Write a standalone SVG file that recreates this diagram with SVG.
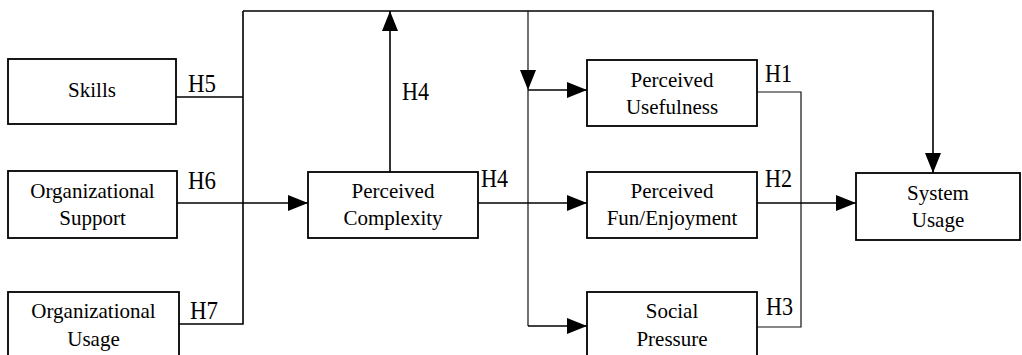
<svg xmlns="http://www.w3.org/2000/svg" width="1022" height="355" viewBox="0 0 1022 355">
<style>
.box{fill:#fff;stroke:#000;stroke-width:1.8}
.nt{font-family:"Liberation Serif","Times New Roman",serif;font-size:21px;fill:#000;text-anchor:middle}
.hl{font-family:"Liberation Serif","Times New Roman",serif;font-size:25px;fill:#000}
.ln{fill:none;stroke:#000;stroke-width:1.6}
.thin{fill:none;stroke:#111;stroke-width:1.2}
</style>
<defs>
<marker id="ah" viewBox="0 0 20 16" refX="20" refY="8" markerWidth="20" markerHeight="16" markerUnits="userSpaceOnUse" orient="auto">
<path d="M0,0 L20,8 L0,16 Z" fill="#000"/>
</marker>
</defs>
<rect width="1022" height="355" fill="#fff"/>
<g id="connectors">
<path class="ln" d="M176,97 H243"/>
<path class="ln" d="M243,11 V324 H179"/>
<path class="ln" d="M177,203 H308" marker-end="url(#ah)"/>
<path class="ln" d="M243,11 H933 V173" marker-end="url(#ah)"/>
<path class="ln" d="M390,172 V11" marker-end="url(#ah)"/>
<path class="thin" d="M528,11 V90" marker-end="url(#ah)"/>
<path class="thin" d="M528,90 V326"/>
<path class="ln" d="M528,90 H587" marker-end="url(#ah)"/>
<path class="ln" d="M528,326 H587" marker-end="url(#ah)"/>
<path class="ln" d="M478,203 H587" marker-end="url(#ah)"/>
<path class="thin" d="M757,92 H801 V327 H757"/>
<path class="ln" d="M757,203 H856" marker-end="url(#ah)"/>
</g>
<g id="labels">
<text class="hl" x="188" y="92" textLength="28" lengthAdjust="spacingAndGlyphs">H5</text>
<text class="hl" x="188" y="189" textLength="28" lengthAdjust="spacingAndGlyphs">H6</text>
<text class="hl" x="190" y="319" textLength="28" lengthAdjust="spacingAndGlyphs">H7</text>
<text class="hl" x="402" y="100" textLength="27" lengthAdjust="spacingAndGlyphs">H4</text>
<text class="hl" x="481" y="187" textLength="27" lengthAdjust="spacingAndGlyphs">H4</text>
<text class="hl" x="765" y="82" textLength="27" lengthAdjust="spacingAndGlyphs">H1</text>
<text class="hl" x="765" y="187" textLength="27" lengthAdjust="spacingAndGlyphs">H2</text>
<text class="hl" x="766" y="315" textLength="27" lengthAdjust="spacingAndGlyphs">H3</text>
</g>
<g id="skills">
<rect class="box" x="8" y="59" width="168" height="65"/>
<text class="nt" x="92" y="97">Skills</text>
</g>
<g id="org-support">
<rect class="box" x="8" y="171" width="169" height="67"/>
<text class="nt" x="92.5" y="198">Organizational</text>
<text class="nt" x="92.5" y="225">Support</text>
</g>
<g id="org-usage">
<rect class="box" x="8" y="292" width="171" height="75"/>
<text class="nt" x="93.5" y="318">Organizational</text>
<text class="nt" x="93.5" y="346">Usage</text>
</g>
<g id="perceived-complexity">
<rect class="box" x="308" y="172" width="170" height="66"/>
<text class="nt" x="393" y="198">Perceived</text>
<text class="nt" x="393" y="225">Complexity</text>
</g>
<g id="perceived-usefulness">
<rect class="box" x="587" y="60" width="170" height="66"/>
<text class="nt" x="672" y="87">Perceived</text>
<text class="nt" x="672" y="114">Usefulness</text>
</g>
<g id="perceived-fun">
<rect class="box" x="587" y="172" width="170" height="66"/>
<text class="nt" x="672" y="198">Perceived</text>
<text class="nt" x="672" y="225">Fun/Enjoyment</text>
</g>
<g id="social-pressure">
<rect class="box" x="587" y="292" width="170" height="75"/>
<text class="nt" x="672" y="318">Social</text>
<text class="nt" x="672" y="346">Pressure</text>
</g>
<g id="system-usage">
<rect class="box" x="856" y="173" width="164" height="67"/>
<text class="nt" x="938" y="200">System</text>
<text class="nt" x="938" y="227">Usage</text>
</g>
</svg>
